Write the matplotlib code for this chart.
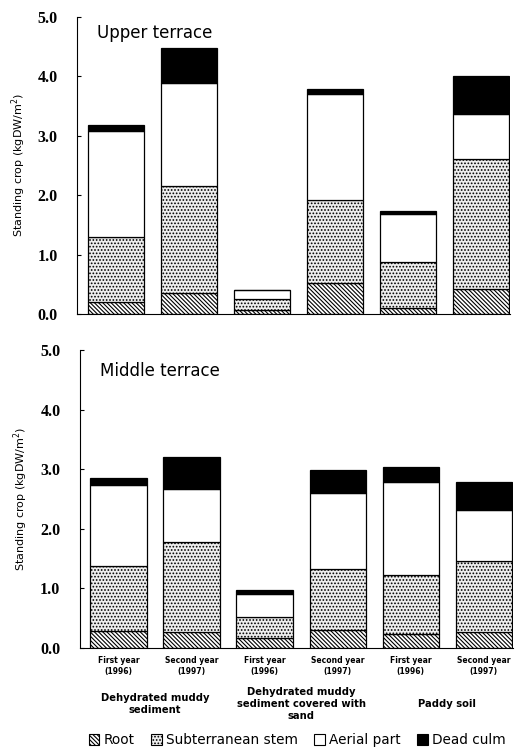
import matplotlib
matplotlib.use('Agg')
import matplotlib.pyplot as plt
from matplotlib.patches import Patch
import numpy as np

# stacked components (kgDW/m2), six bars per panel
components = ['Root', 'Subterranean stem', 'Aerial part', 'Dead culm']
tick_labels = ['First year\n(1996)', 'Second year\n(1997)',
               'First year\n(1996)', 'Second year\n(1997)',
               'First year\n(1996)', 'Second year\n(1997)']
groups = ['Dehydrated muddy\nsediment',
          'Dehydrated muddy\nsediment covered with\nsand',
          'Paddy soil']

# cumulative tops
upper_root = [0.20, 0.35, 0.06, 0.52, 0.10, 0.42]
upper_stem = [1.30, 2.15, 0.25, 1.92, 0.87, 2.60]
upper_aerial = [3.08, 3.88, 0.40, 3.70, 1.68, 3.37]
upper_dead = [3.18, 4.47, 0.40, 3.78, 1.74, 4.01]

middle_root = [0.28, 0.27, 0.16, 0.31, 0.24, 0.27]
middle_stem = [1.37, 1.78, 0.52, 1.32, 1.23, 1.46]
middle_aerial = [2.73, 2.67, 0.91, 2.60, 2.79, 2.31]
middle_dead = [2.86, 3.21, 0.97, 2.98, 3.04, 2.78]

styles = [dict(facecolor='white', hatch='\\' * 8),
          dict(facecolor='#eeeeee', hatch='.....'),
          dict(facecolor='white', hatch=None),
          dict(facecolor='black', hatch=None)]

plt.rcParams['hatch.linewidth'] = 0.8

fig = plt.figure(figsize=(5.15, 7.54), dpi=100)
ax1 = fig.add_axes([0.1495, 0.5836, 0.841, 0.394])
ax2 = fig.add_axes([0.155, 0.1406, 0.841, 0.395])

x = np.arange(6)
serif = 'Liberation Serif'


def draw(ax, tops, title, ty):
    prev = np.zeros(6)
    for top, st in zip(tops, styles):
        top = np.array(top)
        ax.bar(x, top - prev, bottom=prev, width=0.77, edgecolor='black',
               linewidth=0.9, **st)
        prev = top
    ax.set_xlim(-0.53, 5.4)
    ax.set_ylim(0, 5.0)
    ax.set_yticks(np.arange(0, 5.01, 1.0))
    ax.set_yticklabels([f'{v:.1f}' for v in np.arange(0, 5.01, 1.0)],
                       fontfamily=serif, fontsize=11.5, fontweight='bold')
    ax.tick_params(axis='y', direction='in', length=3, pad=14)
    ax.spines['top'].set_visible(False)
    ax.spines['right'].set_visible(False)
    ax.set_ylabel('Standing crop (kgDW/m$^2$)', fontsize=8, labelpad=7)
    ax.text(0.046, ty, title, transform=ax.transAxes, fontsize=12,
            va='center', ha='left')


draw(ax1, [upper_root, upper_stem, upper_aerial, upper_dead], 'Upper terrace', 0.946)
draw(ax2, [middle_root, middle_stem, middle_aerial, middle_dead], 'Middle terrace', 0.93)

ax1.set_xticks([])
ax2.set_xticks(x)
ax2.set_xticklabels(tick_labels, fontsize=5.5, fontweight='bold', linespacing=1.3)
ax2.tick_params(axis='x', length=0, pad=6)

for i, g in enumerate(groups):
    ax2.text(2 * i + 0.5, -0.188, g, transform=ax2.get_xaxis_transform(),
             ha='center', va='center', fontsize=7.2, fontweight='bold',
             linespacing=1.3)

handles = [Patch(edgecolor='black', linewidth=0.8, **st) for st in styles]
fig.legend(handles, components, loc='center', ncol=4, frameon=False,
           bbox_to_anchor=(0.577, 0.018), fontsize=9.8, handlelength=0.8,
           handleheight=0.8, handletextpad=0.3, columnspacing=1.2)

plt.savefig('out.png', dpi=100)
